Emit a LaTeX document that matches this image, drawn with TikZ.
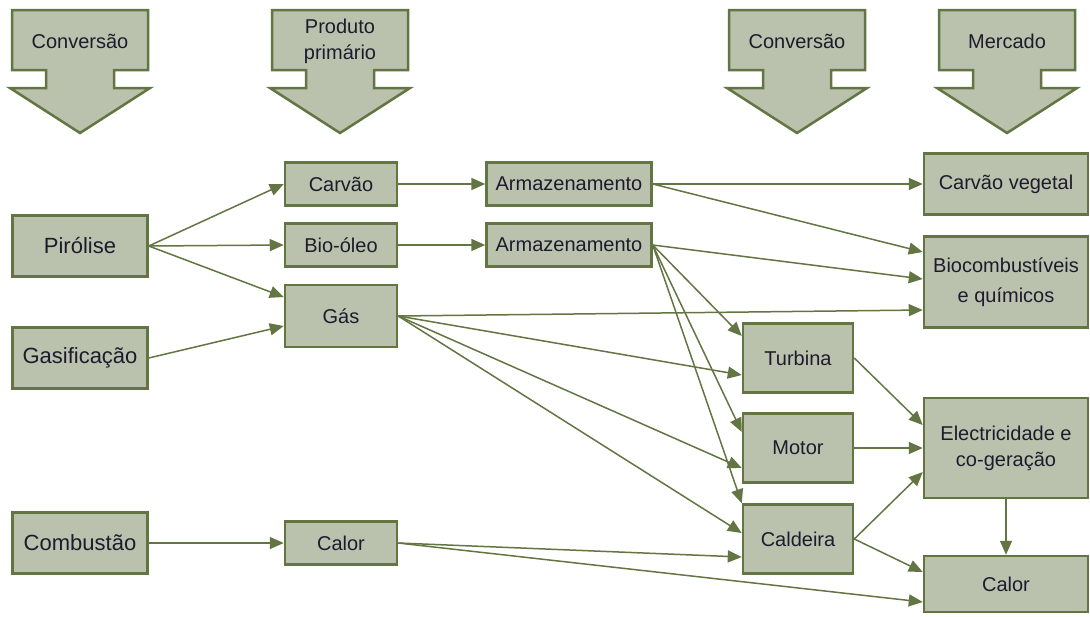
\documentclass[tikz,border=0pt]{standalone}
\usepackage{fontspec}
\setmainfont{Liberation Sans}
\usepackage{tikz}
\usetikzlibrary{arrows.meta,calc}
\definecolor{VerdeBorda}{RGB}{98,117,66}
\definecolor{VerdeFundo}{RGB}{186,194,174}
\definecolor{TextoEscuro}{RGB}{28,28,45}
\tikzset{
  caixa/.style={draw=VerdeBorda,fill=VerdeFundo,line width=1.25pt,text=TextoEscuro,
    align=center,inner sep=1pt,font=\fontsize{10}{13}\selectfont},
  origem/.style={caixa,minimum width=67.5pt,minimum height=30.5pt,font=\fontsize{11}{13}\selectfont},
  produto/.style={caixa,minimum width=56pt,minimum height=21.5pt},
  armaz/.style={caixa,minimum width=82.5pt,minimum height=21.5pt},
  conversor/.style={caixa,minimum width=55pt,minimum height=34.5pt},
  mercado/.style={caixa,minimum width=82pt,minimum height=30.5pt},
  liga/.style={->,draw=VerdeBorda,line width=0.75pt},
}

\begin{document}
\begin{tikzpicture}[x=0.5pt,y=-0.5pt,>={Triangle[length=7pt,width=6pt]}]
  \useasboundingbox (0,0) rectangle (1090,616);
  % setas de cabecalho
  \foreach \cx/\nome/\texto in {80/cabConv/Conversão,340/cabProd/{Produto\\primário},
      797/cabConvB/Conversão,1007/cabMerc/Mercado}{
    \draw[draw=VerdeBorda,fill=VerdeFundo,line width=1.25pt]
      (\cx-68,10) -- (\cx+68,10) -- (\cx+68,70) -- (\cx+34,70) -- (\cx+34,88)
      -- (\cx+70,88) -- (\cx,133) -- (\cx-70,88) -- (\cx-34,88) -- (\cx-34,70)
      -- (\cx-68,70) -- cycle;
    \node[text=TextoEscuro,align=center,font=\fontsize{10}{13}\selectfont] (\nome) at (\cx,41) {\texto};
  }
  % processos
  \node[origem] (pirolise) at (80,246) {Pirólise};
  \node[origem] (gasif) at (80,358) {Gasificação};
  \node[origem] (combust) at (80,543) {Combustão};
  % produto primario
  \node[produto] (carvao) at (341,184) {Carvão};
  \node[produto] (bioleo) at (341,245) {Bio-óleo};
  \node[produto,minimum height=31pt] (gas) at (341,316) {Gás};
  \node[produto] (calor) at (341,543) {Calor};
  \node[armaz] (armA) at (569,184) {Armazenamento};
  \node[armaz] (armB) at (569,245) {Armazenamento};
  % conversao
  \node[conversor] (turbina) at (798,358) {Turbina};
  \node[conversor] (motor) at (798,448) {Motor};
  \node[conversor] (caldeira) at (798,539) {Caldeira};
  % mercado
  \node[mercado] (vegetal) at (1006,184) {Carvão vegetal};
  \node[mercado,minimum height=45.5pt] (biocomb) at (1006,282) {Biocombustíveis\\[2pt]e químicos};
  \node[mercado,minimum height=50pt] (elec) at (1006,448) {Electricidade e\\co-geração};
  \node[mercado,minimum height=28pt] (calorM) at (1006,584) {Calor};

  \draw[liga] (pirolise.east) -- (carvao.west);
  \draw[liga] (pirolise.east) -- (bioleo.west);
  \draw[liga] (pirolise.east) -- ($(gas.west)+(0,-19)$);
  \draw[liga] (gasif.east) -- ($(gas.west)+(0,10)$);
  \draw[liga] (combust.east) -- (calor.west);
  \draw[liga] (carvao.east) -- (armA.west);
  \draw[liga] (bioleo.east) -- (armB.west);
  \draw[liga] (armA.east) -- (vegetal.west);
  \draw[liga] (armA.east) -- ($(biocomb.west)+(0,-30)$);
  \draw[liga] (armB.east) -- ($(biocomb.west)+(0,-3)$);
  \draw[liga] (armB.east) -- ($(turbina.west)+(0,-22)$);
  \draw[liga] (armB.east) -- ($(motor.west)+(0,-16)$);
  \draw[liga] (armB.east) -- (caldeira.north west);
  \draw[liga] (gas.east) -- ($(biocomb.west)+(0,28)$);
  \draw[liga] (gas.east) -- ($(turbina.west)+(0,17)$);
  \draw[liga] (gas.east) -- ($(motor.west)+(0,20)$);
  \draw[liga] (gas.east) -- ($(caldeira.west)+(0,-6)$);
  \draw[liga] (calor.east) -- ($(caldeira.west)+(0,18)$);
  \draw[liga] (calor.east) -- ($(calorM.west)+(0,18)$);
  \draw[liga] (turbina.east) -- ($(elec.west)+(0,-23)$);
  \draw[liga] (motor.east) -- (elec.west);
  \draw[liga] (caldeira.east) -- ($(elec.west)+(0,24)$);
  \draw[liga] (caldeira.east) -- ($(calorM.west)+(0,-12)$);
  \draw[liga] (elec.south) -- (calorM.north);
\end{tikzpicture}
\end{document}
